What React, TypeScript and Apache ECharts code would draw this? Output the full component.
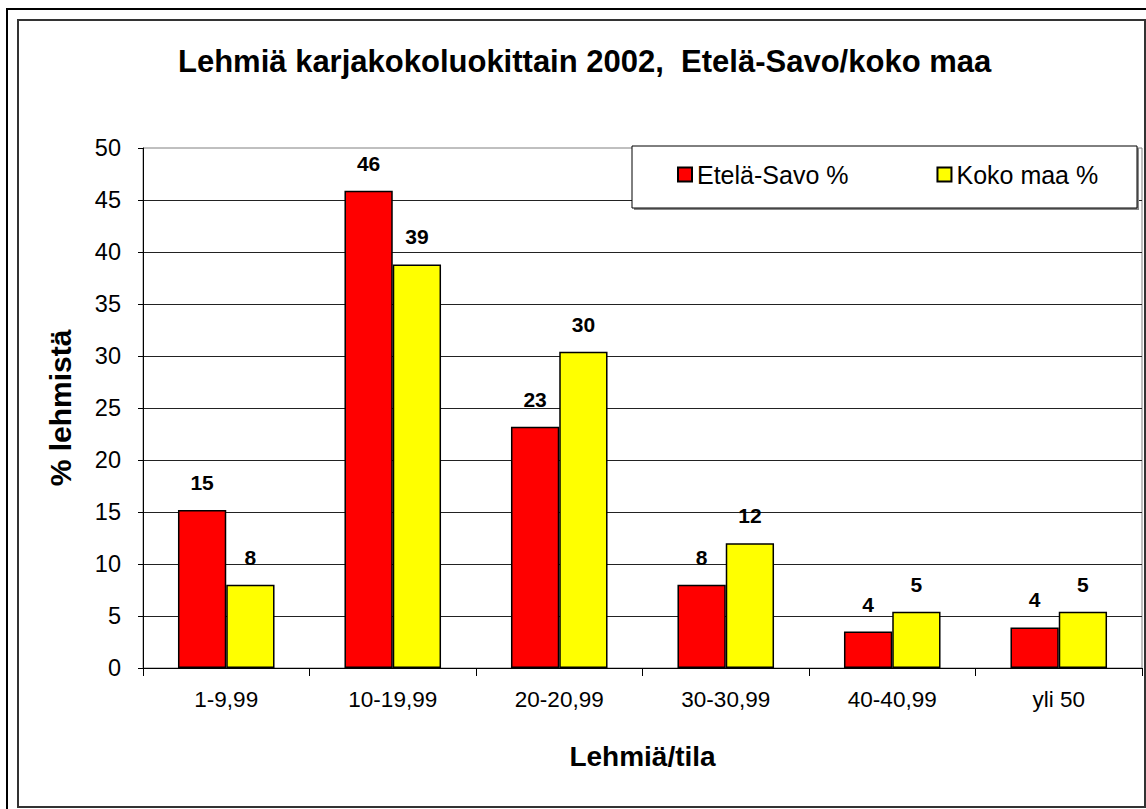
import React, { useEffect, useRef } from "react";
import * as echarts from "echarts";

const categories = ["1-9,99", "10-19,99", "20-20,99", "30-30,99", "40-40,99", "yli 50"];
const eteläSavo = [15.2, 45.9, 23.2, 8.0, 3.5, 3.9];
const kokoMaa = [8.0, 38.8, 30.4, 12.0, 5.4, 5.4];
const seriesNames = ["Etelä-Savo %", "Koko maa %"];
const titleText = "Lehmiä karjakokoluokittain 2002,  Etelä-Savo/koko maa";
const yAxisTitle = "% lehmistä";
const xAxisTitle = "Lehmiä/tila";

const FONT = "'Liberation Sans', Arial, sans-serif";

export default function App() {
  const ref = useRef<HTMLDivElement>(null);
  useEffect(() => {
    if (!ref.current) return;
    const chart = echarts.init(ref.current, undefined, { renderer: "svg" });
    const labelCfg = {
      show: true,
      position: "top",
      distance: 17,
      fontFamily: FONT,
      fontSize: 21,
      fontWeight: "bold",
      color: "#000",
      formatter: (p: any) => String(Math.round(p.value)),
    };
    chart.setOption({
      animation: false,
      backgroundColor: "#fff",
      textStyle: { fontFamily: FONT },
      title: {
        text: titleText,
        left: 178,
        top: 46,
        padding: 0,
        textStyle: { fontFamily: FONT, fontSize: 31, fontWeight: "bold", color: "#000" },
      },
      graphic: [
        { type: "rect", shape: { x: 7, y: 9, width: 1160, height: 820 }, style: { fill: "none", stroke: "#000", lineWidth: 2 }, silent: true },
        { type: "rect", shape: { x: 18, y: 20, width: 1127, height: 787 }, style: { fill: "none", stroke: "#333", lineWidth: 2 }, silent: true },
        { type: "rect", shape: { x: 634, y: 148, width: 505, height: 62 }, style: { fill: "#888", stroke: "none" }, silent: true, z: 10 },
        { type: "rect", shape: { x: 632, y: 146, width: 505, height: 62 }, style: { fill: "#fff", stroke: "#000", lineWidth: 1 }, silent: true, z: 11 },
      ],
      legend: {
        data: seriesNames,
        left: 677,
        top: 162,
        padding: 0,
        itemGap: 88,
        itemWidth: 14,
        itemHeight: 14,
        itemTextGap: 8,
        icon: "rect",
        z: 20,
        textStyle: { fontFamily: FONT, fontSize: 25, color: "#000" },
      },
      grid: {
        left: 143,
        top: 148,
        width: 999,
        height: 520,
        show: true,
        borderColor: "#808080",
        borderWidth: 1,
        backgroundColor: "transparent",
      },
      xAxis: {
        type: "category",
        data: categories,
        name: xAxisTitle,
        nameLocation: "middle",
        nameGap: 74,
        nameTextStyle: { fontFamily: FONT, fontSize: 28, fontWeight: "bold", color: "#000" },
        axisLine: { lineStyle: { color: "#000", width: 1 } },
        axisTick: { show: true, length: 8, lineStyle: { color: "#000" } },
        axisLabel: { fontFamily: FONT, fontSize: 22.5, color: "#000", margin: 20 },
      },
      yAxis: {
        type: "value",
        min: 0,
        max: 50,
        interval: 5,
        name: yAxisTitle,
        nameLocation: "middle",
        nameRotate: 90,
        nameGap: 68,
        nameTextStyle: { fontFamily: FONT, fontSize: 30, fontWeight: "bold", color: "#000" },
        axisLine: { show: true, lineStyle: { color: "#000", width: 1 } },
        axisTick: { show: true, length: 5, lineStyle: { color: "#000" } },
        axisLabel: { fontFamily: FONT, fontSize: 23.5, color: "#000", margin: 22 },
        splitLine: { show: true, showMaxLine: false, lineStyle: { color: "#222", width: 1 } },
      },
      series: [
        {
          name: seriesNames[0],
          type: "bar",
          data: eteläSavo,
          barWidth: "29%",
          barGap: "0%",
          itemStyle: { color: "#ff0000", borderColor: "#000", borderWidth: 1.5 },
          label: labelCfg,
        },
        {
          name: seriesNames[1],
          type: "bar",
          data: kokoMaa,
          barWidth: "29%",
          itemStyle: { color: "#ffff00", borderColor: "#000", borderWidth: 1.5 },
          label: labelCfg,
        },
      ],
    });
    return () => chart.dispose();
  }, []);
  return (
    <div
      ref={ref}
      style={{ position: "fixed", left: 0, top: 0, width: 1146, height: 809, background: "#fff" }}
    />
  );
}
